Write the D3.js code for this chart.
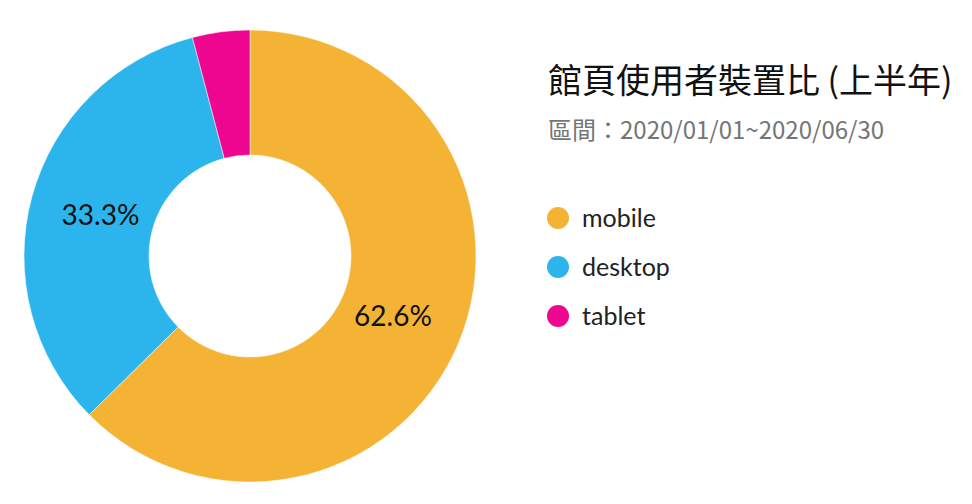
<!DOCTYPE html>
<html><head><meta charset="utf-8">
<script src="https://cdn.jsdelivr.net/npm/d3@7"></script>
<style>body{margin:0;background:#fff;}svg{display:block;}</style>
</head><body>
<svg id="chart" width="972" height="504"></svg>
<script>
const categories = ["mobile", "desktop", "tablet"];
const values = [62.6, 33.3, 4.1];
const colors = ["#F4B335", "#2CB5EC", "#EE0590"];
const title = "館頁使用者裝置比 (上半年)";
const subtitle = "區間：2020/01/01~2020/06/30";

const svg = d3.select("#chart");
const cx = 250, cy = 256, outerR = 226, innerR = 101;
const data = categories.map((c, i) => ({name: c, value: values[i], color: colors[i]}));
const pie = d3.pie().sort(null).value(d => d.value);
const arc = d3.arc().innerRadius(innerR).outerRadius(outerR);
const labelArc = d3.arc().innerRadius(155).outerRadius(155);
const g = svg.append("g").attr("transform", `translate(${cx},${cy})`);
const arcs = pie(data);
g.selectAll("path").data(arcs).join("path")
  .attr("d", arc).attr("fill", d => d.data.color).attr("stroke", "#fff").attr("stroke-width", 0.5);
const total = d3.sum(values);
g.selectAll("text").data(arcs.filter(d => d.data.value / total > 0.05)).join("text")
  .attr("transform", d => `translate(${labelArc.centroid(d)})`)
  .attr("text-anchor", "middle").attr("dy", "0.36em")
  .style("font-family", "Lato, sans-serif").style("font-size", "28px").attr("fill", "#111")
  .text(d => d.data.value.toFixed(1) + "%");

svg.append("text").attr("x", 548).attr("y", 93)
  .style("font-family", "'Noto Sans CJK TC', sans-serif").style("font-size", "34px").attr("fill", "#111")
  .text(title);
svg.append("text").attr("x", 548).attr("y", 139)
  .style("font-family", "'Noto Sans CJK TC', sans-serif").style("font-size", "24px").attr("fill", "#757575")
  .text(subtitle);

const legend = svg.append("g");
const ly = d3.scalePoint().domain(categories).range([218, 316]);
const items = legend.selectAll("g").data(data).join("g")
  .attr("transform", d => `translate(558,${ly(d.name)})`);
items.append("circle").attr("r", 11).attr("fill", d => d.color);
items.append("text").attr("x", 24).attr("dy", "0.35em")
  .style("font-family", "Lato, sans-serif").style("font-size", "25px").attr("fill", "#222")
  .text(d => d.name);
</script>
</body></html>
